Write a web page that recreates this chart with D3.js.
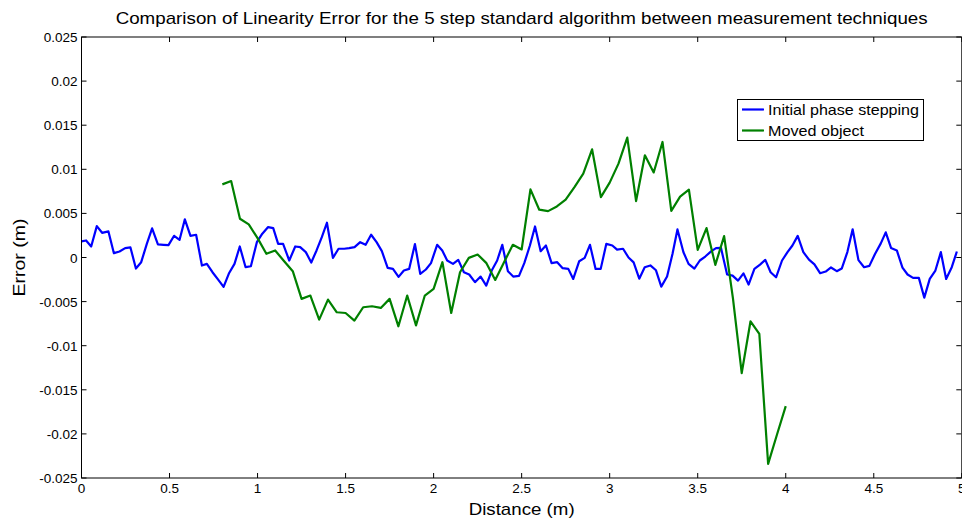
<!DOCTYPE html>
<html>
<head>
<meta charset="utf-8">
<script src="https://cdn.jsdelivr.net/npm/d3@7"></script>
<style>
  body { margin: 0; background: #fff; }
  svg { display: block; font-family: "Liberation Sans", Arial, Helvetica, sans-serif; }
</style>
</head>
<body>
<div id="chart"></div>
<script>
// tick positions and their labels
const xTicks = [0, 0.5, 1, 1.5, 2, 2.5, 3, 3.5, 4, 4.5, 5];
const xTickLabels = ["0", "0.5", "1", "1.5", "2", "2.5", "3", "3.5", "4", "4.5", "5"];
const yTicks = [-0.025, -0.02, -0.015, -0.01, -0.005, 0, 0.005, 0.01, 0.015, 0.02, 0.025];
const yTickLabels = ["-0.025", "-0.02", "-0.015", "-0.01", "-0.005", "0", "0.005", "0.01", "0.015", "0.02", "0.025"];

const seriesNames = ["Initial phase stepping", "Moved object"];

// "Initial phase stepping" (x in m, error in mm -> converted below)
const blueX = [
  0, 0.026, 0.055, 0.087, 0.117, 0.153, 0.184, 0.216, 0.248, 0.278, 0.309, 0.339, 0.371, 0.401, 0.434, 0.466,
  0.494, 0.526, 0.557, 0.587, 0.619, 0.651, 0.684, 0.712, 0.744, 0.774, 0.807, 0.837, 0.869, 0.899, 0.932, 0.962, 0.996,
  1.027, 1.060, 1.089, 1.117, 1.145, 1.180, 1.214, 1.242, 1.274, 1.305, 1.335, 1.365, 1.394, 1.428, 1.460, 1.492,
  1.520, 1.551, 1.583, 1.614, 1.645, 1.676, 1.706, 1.739, 1.769, 1.801, 1.831, 1.861, 1.894, 1.924, 1.956, 1.985, 2.020,
  2.049, 2.077, 2.110, 2.140, 2.172, 2.202, 2.235, 2.267, 2.299, 2.330, 2.361, 2.390, 2.422, 2.452, 2.485, 2.515,
  2.547, 2.576, 2.608, 2.638, 2.670, 2.702, 2.733, 2.765, 2.793, 2.827, 2.858, 2.888, 2.920, 2.949, 2.981, 3.015,
  3.042, 3.076, 3.107, 3.136, 3.168, 3.199, 3.231, 3.263, 3.293, 3.326, 3.357, 3.385, 3.419, 3.448, 3.481, 3.512,
  3.543, 3.576, 3.604, 3.632, 3.667, 3.698, 3.729, 3.760, 3.789, 3.822, 3.854, 3.884, 3.914, 3.945, 3.979, 4.010, 4.038,
  4.068, 4.100, 4.132, 4.163, 4.195, 4.227, 4.257, 4.290, 4.318, 4.350, 4.380, 4.413, 4.445, 4.475, 4.507, 4.540,
  4.568, 4.598, 4.631, 4.663, 4.692, 4.723, 4.756, 4.787, 4.818, 4.850, 4.881, 4.911, 4.943, 4.972
];
const blueMM = [
  1.82, 1.93, 1.25, 3.56, 2.80, 2.96, 0.49, 0.68, 1.06, 1.14, -1.25, -0.53, 1.55, 3.30, 1.48, 1.44,
  1.40, 2.46, 2.01, 4.32, 2.46, 2.58, -0.91, -0.72, -1.67, -2.46, -3.34, -1.82, -0.72, 1.25, -1.10, -0.99, 1.74,
  2.70, 3.45, 3.33, 1.55, 1.55, -0.34, 1.25, 1.17, 0.61, -0.57, 0.80, 2.31, 3.94, -0.04, 0.99, 0.99,
  1.06, 1.17, 1.74, 1.44, 2.58, 1.74, 0.72, -1.17, -1.29, -2.20, -1.48, -1.29, 1.52, -1.86, -1.36, -0.64, 1.44,
  0.80, -0.34, -0.72, -0.27, -1.67, -1.93, -2.80, -2.16, -3.18, -1.48, -0.34, 1.44, -1.55, -2.16, -2.08, -0.64,
  1.36, 3.52, 0.72, 1.36, -0.64, -0.53, -1.21, -1.29, -2.43, -0.42, -0.04, 1.44, -1.29, -1.29, 1.55, 1.36,
  0.89, 0.99, 0.00, -0.55, -2.40, -1.10, -0.90, -1.45, -3.30, -2.16, 0.42, 3.18, 0.60, -0.72, -1.25, -0.34,
  0.11, 0.70, 1.06, 1.10, -1.93, -2.05, -2.62, -1.80, -3.07, -1.29, -0.80, -0.27, -1.67, -2.24, -0.34, 0.61, 1.36,
  2.45, 0.61, -0.25, -0.78, -1.78, -1.59, -1.13, -1.55, -1.25, 0.61, 3.20, -0.30, -1.10, -0.95, 0.40, 1.60,
  2.85, 1.08, 0.80, -1.15, -1.93, -2.31, -2.31, -4.55, -2.43, -1.48, 0.61, -2.43, -1.10, 0.68
];

// "Moved object"
const greenX = [
  0.80, 0.85, 0.90, 0.95, 1.00, 1.05, 1.10, 1.15, 1.20, 1.25, 1.30, 1.35, 1.40, 1.45, 1.50, 1.55, 1.60,
  1.65, 1.70, 1.75, 1.80, 1.85, 1.90, 1.95, 2.00, 2.05, 2.10, 2.15, 2.20, 2.25, 2.30, 2.35, 2.40,
  2.45, 2.50, 2.55, 2.60, 2.65, 2.70, 2.75, 2.80, 2.85, 2.90, 2.95, 3.00, 3.05, 3.10, 3.15, 3.20,
  3.25, 3.30, 3.35, 3.40, 3.45, 3.50, 3.55, 3.60, 3.65, 3.70, 3.75, 3.80, 3.85, 3.90, 3.95, 4.00
];
const greenMM = [
  8.29, 8.67, 4.39, 3.75, 2.20, 0.42, 0.80, -0.40, -1.55, -4.69, -4.31, -7.04, -4.77, -6.21, -6.29, -7.16, -5.64,
  -5.53, -5.72, -4.69, -7.80, -4.31, -7.70, -4.31, -3.56, -0.53, -6.29, -1.67, -0.04, 0.34, -0.64, -2.54, -0.53,
  1.44, 0.91, 7.72, 5.42, 5.26, 5.79, 6.55, 7.99, 9.51, 12.27, 6.85, 8.49, 10.64, 13.60, 6.40, 11.59,
  9.64, 13.10, 5.28, 6.90, 7.69, 0.87, 3.33, -0.83, 2.42, -4.60, -13.10, -7.23, -8.67, -23.40, -20.10, -16.85
];

const width = 962, height = 519;
const margin = { left: 81.5, right: 0.2, top: 37, bottom: 41 };

const svg = d3.select("#chart").append("svg")
  .attr("width", width)
  .attr("height", height);

const x = d3.scaleLinear().domain([0, 5]).range([margin.left, width - margin.right]);
const y = d3.scaleLinear().domain([-0.025, 0.025]).range([height - margin.bottom, margin.top]);

const toPoints = (xs, mm) => xs.map((v, i) => ({ x: v, y: mm[i] / 1000 }));
const blue = toPoints(blueX, blueMM);
const green = toPoints(greenX, greenMM);

const line = d3.line().x(d => x(d.x)).y(d => y(d.y));

// data lines
svg.append("path").datum(blue)
  .attr("fill", "none").attr("stroke", "#0000ff").attr("stroke-width", 2.2)
  .attr("stroke-linejoin", "round").attr("d", line);
svg.append("path").datum(green)
  .attr("fill", "none").attr("stroke", "#008000").attr("stroke-width", 2.2)
  .attr("stroke-linejoin", "round").attr("d", line);

// axes, matlab style: ticks inside, on all four sides
const x0 = x(0), x1 = x(5), y0 = y(-0.025), y1 = y(0.025);
const axes = svg.append("g").attr("stroke", "#000").attr("stroke-width", 1);
axes.append("rect")
  .attr("x", x0).attr("y", y1).attr("width", x1 - x0).attr("height", y0 - y1)
  .attr("fill", "none");

const tickLen = 5;
axes.selectAll(".xtb").data(xTicks).join("line")
  .attr("x1", d => x(d)).attr("x2", d => x(d))
  .attr("y1", y0).attr("y2", y0 - tickLen);
axes.selectAll(".xtt").data(xTicks).join("line")
  .attr("x1", d => x(d)).attr("x2", d => x(d))
  .attr("y1", y1).attr("y2", y1 + tickLen);
axes.selectAll(".ytl").data(yTicks).join("line")
  .attr("x1", x0).attr("x2", x0 + tickLen)
  .attr("y1", d => y(d)).attr("y2", d => y(d));
axes.selectAll(".ytr").data(yTicks).join("line")
  .attr("x1", x1 - 0.5).attr("x2", x1 - 0.5 - tickLen)
  .attr("y1", d => y(d)).attr("y2", d => y(d));

// tick labels
svg.append("g").selectAll("text").data(xTicks).join("text")
  .attr("x", d => x(d)).attr("y", y0 + 15)
  .attr("text-anchor", "middle").attr("font-size", 13.5)
  .text((d, i) => xTickLabels[i]);
svg.append("g").selectAll("text").data(yTicks).join("text")
  .attr("x", x0 - 4).attr("y", d => y(d) + 5)
  .attr("text-anchor", "end").attr("font-size", 13.5)
  .text((d, i) => yTickLabels[i]);

// titles
svg.append("text")
  .attr("x", (x0 + x1) / 2).attr("y", 24)
  .attr("text-anchor", "middle").attr("font-size", 17)
  .attr("textLength", 812).attr("lengthAdjust", "spacingAndGlyphs")
  .text("Comparison of Linearity Error for the 5 step standard algorithm between measurement techniques");
svg.append("text")
  .attr("x", (x0 + x1) / 2).attr("y", 515)
  .attr("text-anchor", "middle").attr("font-size", 17)
  .attr("textLength", 106).attr("lengthAdjust", "spacingAndGlyphs")
  .text("Distance (m)");
svg.append("text")
  .attr("transform", `translate(25,${(y0 + y1) / 2}) rotate(-90)`)
  .attr("text-anchor", "middle").attr("font-size", 17)
  .attr("textLength", 78).attr("lengthAdjust", "spacingAndGlyphs")
  .text("Error (m)");

// legend
const legend = svg.append("g");
legend.append("rect")
  .attr("x", 737.5).attr("y", 99.5).attr("width", 186).attr("height", 41)
  .attr("fill", "#fff").attr("stroke", "#000").attr("stroke-width", 1);
const legendColors = ["#0000ff", "#008000"];
const legendWidths = [151, 96];
seriesNames.forEach((name, i) => {
  const ly = 109.5 + i * 21;
  legend.append("line")
    .attr("x1", 742).attr("x2", 764).attr("y1", ly).attr("y2", ly)
    .attr("stroke", legendColors[i]).attr("stroke-width", 2.2);
  legend.append("text")
    .attr("x", 768).attr("y", ly + 5.5)
    .attr("font-size", 15)
    .attr("textLength", legendWidths[i]).attr("lengthAdjust", "spacingAndGlyphs")
    .text(name);
});
</script>
</body>
</html>
